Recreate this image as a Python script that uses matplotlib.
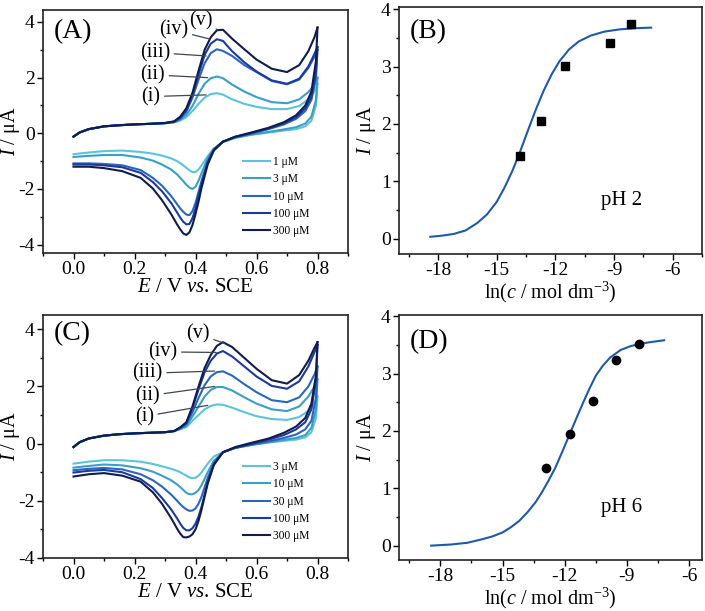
import matplotlib
matplotlib.use('Agg')
import matplotlib.pyplot as plt
from matplotlib.ticker import MultipleLocator, FormatStrFormatter

plt.rcParams['font.family'] = ['Liberation Serif', 'DejaVu Serif']
plt.rcParams['mathtext.fontset'] = 'custom'
plt.rcParams['mathtext.rm'] = 'Liberation Serif'
plt.rcParams['mathtext.it'] = 'Liberation Serif:italic'
plt.rcParams['axes.unicode_minus'] = False

# --- CV data ---
E_fwd = [0.0, 0.02, 0.05, 0.1, 0.15, 0.2, 0.25, 0.3, 0.33, 0.35, 0.37, 0.39, 0.41,
         0.43, 0.45, 0.47, 0.49, 0.52, 0.56, 0.6, 0.65, 0.7, 0.74, 0.77, 0.79, 0.8]
E_rev = [0.8, 0.795, 0.78, 0.76, 0.73, 0.69, 0.64, 0.58, 0.53, 0.49, 0.46, 0.44,
         0.42, 0.41, 0.40, 0.39, 0.38, 0.37, 0.36, 0.35, 0.34, 0.32, 0.29, 0.26,
         0.22, 0.16, 0.1, 0.05, 0.0]

# panel A (pH 2)
A_fwd = [
    [-0.12, 0.03, 0.15, 0.25, 0.29, 0.32, 0.34, 0.36, 0.39, 0.46, 0.58, 0.80, 1.06,
     1.28, 1.41, 1.44, 1.39, 1.22, 1.06, 0.95, 0.87, 0.87, 0.98, 1.22, 1.50, 1.78],
    [-0.12, 0.03, 0.15, 0.25, 0.29, 0.32, 0.34, 0.36, 0.40, 0.49, 0.66, 0.98, 1.42,
     1.78, 1.98, 2.04, 1.98, 1.75, 1.50, 1.30, 1.12, 1.08, 1.22, 1.48, 1.75, 2.00],
    [-0.12, 0.03, 0.15, 0.25, 0.29, 0.32, 0.34, 0.37, 0.41, 0.53, 0.78, 1.28, 1.93,
     2.52, 2.88, 3.02, 2.96, 2.78, 2.45, 2.20, 1.88, 1.76, 1.93, 2.35, 2.75, 3.00],
    [-0.12, 0.03, 0.15, 0.25, 0.29, 0.32, 0.34, 0.37, 0.42, 0.56, 0.83, 1.38, 2.12,
     2.82, 3.22, 3.38, 3.32, 2.95, 2.55, 2.22, 1.90, 1.78, 1.96, 2.40, 2.85, 3.10],
    [-0.12, 0.03, 0.15, 0.25, 0.29, 0.32, 0.34, 0.37, 0.43, 0.60, 0.90, 1.45, 2.25,
     3.00, 3.45, 3.70, 3.72, 3.40, 3.02, 2.65, 2.32, 2.20, 2.45, 2.95, 3.45, 3.80],
]
A_rev = [
    [1.78, 1.0, 0.45, 0.25, 0.15, 0.1, 0.03, -0.06, -0.17, -0.32, -0.55, -0.82,
     -1.15, -1.3, -1.39, -1.39, -1.33, -1.24, -1.15, -1.07, -1.0, -0.9, -0.8, -0.73,
     -0.67, -0.62, -0.64, -0.69, -0.75],
    [2.0, 1.2, 0.6, 0.35, 0.22, 0.14, 0.05, -0.05, -0.15, -0.3, -0.55, -0.9,
     -1.42, -1.7, -1.92, -2.0, -1.95, -1.85, -1.72, -1.6, -1.48, -1.3, -1.12, -0.98,
     -0.87, -0.78, -0.78, -0.81, -0.85],
    [3.0, 2.0, 1.2, 0.8, 0.52, 0.32, 0.15, -0.02, -0.14, -0.3, -0.58, -1.0,
     -1.7, -2.1, -2.5, -2.8, -2.94, -2.92, -2.82, -2.7, -2.55, -2.25, -1.88, -1.6,
     -1.32, -1.15, -1.1, -1.08, -1.08],
    [3.1, 2.2, 1.3, 0.9, 0.58, 0.36, 0.18, 0.0, -0.13, -0.3, -0.6, -1.05,
     -1.8, -2.25, -2.7, -3.05, -3.26, -3.27, -3.18, -3.03, -2.85, -2.5, -2.08, -1.75,
     -1.42, -1.22, -1.15, -1.12, -1.12],
    [3.8, 2.6, 1.5, 1.0, 0.65, 0.4, 0.2, 0.02, -0.12, -0.3, -0.62, -1.12,
     -1.95, -2.45, -2.9, -3.3, -3.56, -3.65, -3.6, -3.45, -3.28, -2.9, -2.4, -1.98,
     -1.6, -1.36, -1.25, -1.2, -1.2],
]
A_labels = ['1 μM', '3 μM', '10 μM', '100 μM', '300 μM']

# panel C (pH 6)
C_fwd = [
    [-0.12, 0.05, 0.18, 0.28, 0.33, 0.36, 0.38, 0.40, 0.44, 0.50, 0.58, 0.80, 1.00,
     1.20, 1.32, 1.37, 1.36, 1.26, 1.10, 0.96, 0.86, 0.83, 0.93, 1.15, 1.42, 1.65],
    [-0.12, 0.05, 0.18, 0.28, 0.33, 0.36, 0.38, 0.40, 0.44, 0.52, 0.62, 0.95, 1.30,
     1.65, 1.88, 1.98, 1.98, 1.86, 1.62, 1.40, 1.20, 1.14, 1.30, 1.65, 2.00, 2.25],
    [-0.12, 0.05, 0.18, 0.28, 0.33, 0.36, 0.38, 0.40, 0.44, 0.54, 0.68, 1.10, 1.60,
     2.05, 2.35, 2.50, 2.53, 2.38, 2.08, 1.80, 1.52, 1.45, 1.62, 2.00, 2.42, 2.70],
    [-0.12, 0.05, 0.18, 0.28, 0.33, 0.36, 0.38, 0.40, 0.44, 0.56, 0.72, 1.25, 1.90,
     2.50, 2.90, 3.15, 3.24, 3.05, 2.70, 2.35, 2.02, 1.92, 2.18, 2.70, 3.20, 3.45],
    [-0.12, 0.05, 0.18, 0.28, 0.33, 0.36, 0.38, 0.40, 0.44, 0.57, 0.75, 1.30, 2.00,
     2.65, 3.10, 3.42, 3.55, 3.38, 3.00, 2.62, 2.22, 2.10, 2.40, 2.90, 3.35, 3.55],
]
C_rev = [
    [1.65, 0.9, 0.4, 0.22, 0.14, 0.1, 0.04, -0.05, -0.15, -0.3, -0.45, -0.7,
     -1.0, -1.12, -1.19, -1.21, -1.18, -1.12, -1.06, -1.0, -0.95, -0.88, -0.79, -0.71,
     -0.63, -0.58, -0.58, -0.63, -0.7],
    [2.25, 1.2, 0.55, 0.3, 0.2, 0.13, 0.05, -0.05, -0.15, -0.3, -0.6, -1.0,
     -1.45, -1.62, -1.72, -1.77, -1.77, -1.72, -1.62, -1.52, -1.43, -1.28, -1.12, -0.98,
     -0.86, -0.76, -0.73, -0.78, -0.84],
    [2.7, 1.6, 0.8, 0.5, 0.32, 0.2, 0.08, -0.04, -0.15, -0.3, -0.68, -1.2,
     -1.85, -2.1, -2.27, -2.34, -2.35, -2.3, -2.22, -2.12, -2.0, -1.78, -1.5, -1.28,
     -1.07, -0.9, -0.85, -0.88, -0.93],
    [3.45, 2.2, 1.2, 0.75, 0.5, 0.3, 0.14, -0.02, -0.14, -0.3, -0.72, -1.35,
     -2.2, -2.55, -2.8, -2.96, -3.03, -3.03, -2.95, -2.8, -2.62, -2.3, -1.9, -1.55,
     -1.24, -1.0, -0.92, -0.95, -1.01],
    [3.55, 2.4, 1.4, 0.9, 0.6, 0.38, 0.18, 0.02, -0.12, -0.3, -0.75, -1.4,
     -2.3, -2.7, -3.0, -3.17, -3.25, -3.28, -3.27, -3.15, -2.98, -2.6, -2.1, -1.7,
     -1.33, -1.12, -1.03, -1.07, -1.15],
]
C_labels = ['3 μM', '10 μM', '30 μM', '100 μM', '300 μM']

cv_colors = ['#5cc3dc', '#3a9ec6', '#2a66c0', '#1b3aa0', '#111c4e']
roman = ['(i)', '(ii)', '(iii)', '(iv)', '(v)']

# --- peak current vs ln(c) ---
B_lnc = [-13.82, -12.72, -11.51, -9.21, -8.11]
B_I = [1.44, 2.05, 3.01, 3.41, 3.75]
B_fit_x = [-18.4, -17.8, -17.2, -16.6, -16.0, -15.5, -15.0, -14.6, -14.2, -13.8, -13.4,
           -13.0, -12.6, -12.2, -11.8, -11.3, -10.8, -10.2, -9.5, -8.7, -7.9, -7.1]
B_fit_y = [0.03, 0.05, 0.08, 0.14, 0.27, 0.42, 0.64, 0.89, 1.18, 1.52, 1.89,
           2.25, 2.58, 2.86, 3.09, 3.30, 3.44, 3.54, 3.61, 3.65, 3.67, 3.68]

D_lnc = [-12.88, -11.72, -10.63, -9.5, -8.41]
D_I = [1.36, 1.95, 2.52, 3.23, 3.52]
D_fit_x = [-18.45, -17.5, -16.7, -16.0, -15.5, -15.0, -14.6, -14.2, -13.8, -13.4, -13.1,
           -12.8, -12.45, -12.1, -11.75, -11.4, -11.1, -10.8, -10.5, -10.15, -9.8,
           -9.3, -8.8, -8.0, -7.2]
D_fit_y = [0.0, 0.02, 0.05, 0.11, 0.16, 0.23, 0.32, 0.43, 0.58, 0.76, 0.93,
           1.12, 1.36, 1.65, 1.95, 2.25, 2.5, 2.74, 2.96, 3.14, 3.28,
           3.41, 3.48, 3.54, 3.58]

fit_color = '#1f5aa8'

W, H = 705, 611
fig = plt.figure(figsize=(W / 100, H / 100), dpi=100)


def box(l, t, r, b):
    return [l / W, 1 - b / H, (r - l) / W, (b - t) / H]


def style(ax, xmaj, xmin, ymaj, ymin):
    ax.xaxis.set_major_locator(MultipleLocator(xmaj))
    ax.xaxis.set_minor_locator(MultipleLocator(xmin))
    ax.yaxis.set_major_locator(MultipleLocator(ymaj))
    ax.yaxis.set_minor_locator(MultipleLocator(ymin))
    ax.tick_params(which='major', direction='out', length=4, width=1, labelsize=14, pad=2)
    ax.tick_params(which='minor', direction='out', length=2.5, width=1)
    for s in ax.spines.values():
        s.set_linewidth(1.2)
        s.set_color('#222222')


def cv_panel(ax, fwd, rev, labels, ylim, letter, letter_y, ann):
    for k in range(5):
        ax.plot(E_fwd, fwd[k], color=cv_colors[k], lw=1.5, label=labels[k])
        ax.plot(E_rev, rev[k], color=cv_colors[k], lw=1.5)
    ax.set_xlim(-0.1, 0.9)
    ax.set_ylim(*ylim)
    style(ax, 0.2, 0.1, 2, 1)
    ax.xaxis.set_major_formatter(FormatStrFormatter('%.1f'))
    ax.set_xlabel(r'$E$ / V $vs$. SCE', fontsize=15, labelpad=0)
    ax.set_ylabel(r'$I$ / μA', fontsize=14.5)
    ax.yaxis.set_label_coords(-0.068, 0.5)
    ax.text(0.035, letter_y, letter, transform=ax.transAxes, fontsize=20, va='center', ha='left')
    for k in range(5):
        (tx, ty), (px, py) = ann[k]
        ax.annotate(roman[k], xy=(px, py), xytext=(tx, ty), fontsize=14.5,
                    ha='center', va='center',
                    arrowprops=dict(arrowstyle='-', color='#3c4850', lw=0.9,
                                    shrinkA=1, shrinkB=0))
    ax.legend(loc='center left', bbox_to_anchor=(0.655, 0.232), frameon=False,
              fontsize=8.3, handlelength=2.4, handletextpad=0.2, labelspacing=0.45,
              borderpad=0, borderaxespad=0)


axA = fig.add_axes(box(43, 10, 348, 253))
cv_panel(axA, A_fwd, A_rev, A_labels, (-4.3, 4.43), '(A)', 0.91,
         [((0.254, 1.32), (0.435, 1.38)),
          ((0.26, 2.1), (0.44, 2.0)),
          ((0.267, 2.9), (0.435, 2.78)),
          ((0.329, 3.71), (0.446, 3.39)),
          ((0.416, 4.05), (0.474, 3.71))])

axC = fig.add_axes(box(43, 315, 348, 558))
cv_panel(axC, C_fwd, C_rev, C_labels, (-4.0, 4.5), '(C)', 0.925,
         [((0.232, 0.95), (0.44, 1.34)),
          ((0.243, 1.67), (0.463, 2.0)),
          ((0.243, 2.46), (0.463, 2.54)),
          ((0.293, 3.21), (0.468, 3.19)),
          ((0.408, 3.83), (0.495, 3.51))])


def fit_panel(ax, fx, fy, px, py, marker, ms, xlim, ylim, letter, letter_y, ph):
    ax.plot(fx, fy, color=fit_color, lw=1.5)
    ax.plot(px, py, linestyle='', marker=marker, ms=ms, color='black')
    ax.set_xlim(*xlim)
    ax.set_ylim(*ylim)
    style(ax, 3, 1.5, 1, 0.5)
    ax.set_xlabel(r'ln($c$ / mol dm$^{-3}$)', fontsize=14.5, labelpad=0)
    ax.set_ylabel(r'$I$ / μA', fontsize=14.5, labelpad=2)
    ax.text(0.036, letter_y, letter, transform=ax.transAxes, fontsize=20, va='center', ha='left')
    ax.text(0.735, 0.215, ph, transform=ax.transAxes, fontsize=15, va='center', ha='center')


axB = fig.add_axes(box(399, 7, 702, 254))
fit_panel(axB, B_fit_x, B_fit_y, B_lnc, B_I, 's', 5.5, (-20.0, -4.5), (-0.27, 4.04),
          '(B)', 0.9, 'pH 2')

axD = fig.add_axes(box(399, 315, 702, 560))
fit_panel(axD, D_fit_x, D_fit_y, D_lnc, D_I, 'o', 6, (-20.0, -5.37), (-0.25, 4.02),
          '(D)', 0.89, 'pH 6')

fig.savefig('out.png', dpi=100)
